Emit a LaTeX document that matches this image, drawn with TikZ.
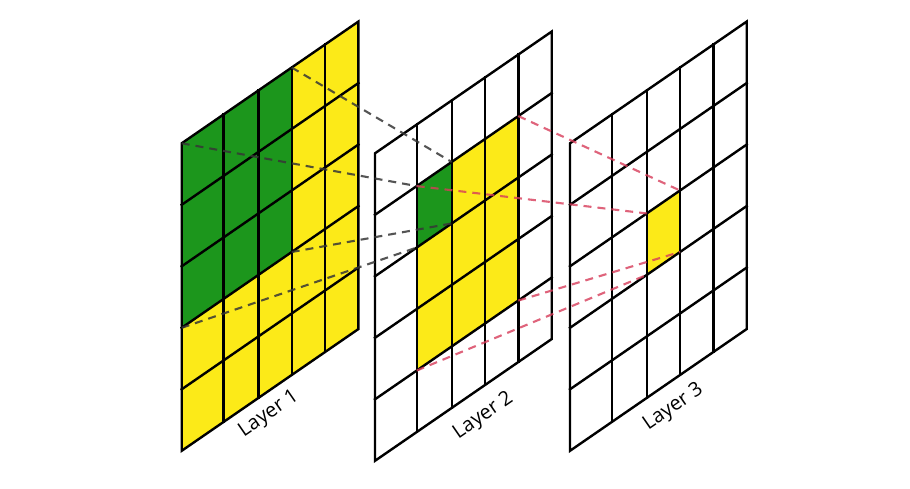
\documentclass[tikz,border=0pt]{standalone}
\usepackage{fontspec}
\setmainfont{Open Sans}
\definecolor{cgreen}{RGB}{28,150,28}
\definecolor{cyellow}{RGB}{252,234,24}
\definecolor{cgray}{RGB}{55,55,55}
\definecolor{cred}{RGB}{215,60,90}
\tikzset{
  gridline/.style={line width=2.4pt, black, line cap=rect, line join=miter},
  graydash/.style={line width=2.1pt, cgray, draw opacity=0.85, dash pattern=on 8pt off 6pt},
  reddash/.style={line width=2.1pt, cred, draw opacity=0.8, dash pattern=on 8pt off 6pt},
  layerlabel/.style={font=\fontsize{20}{22}\selectfont, rotate=34.6, inner sep=0pt}
}
\begin{document}
\begin{tikzpicture}[x=1pt,y=-1pt]
\path[use as bounding box] (0,0) rectangle (910,489);
% corner coordinates of the three grids
\foreach \l/\ox/\oy in {1/181.7/143.3, 2/375/153.3, 3/570/143.3}{
  \foreach \i/\cx in {0/0, 1/41.7, 2/76.7, 3/110, 4/143.3, 5/176.7}{
    \foreach \j in {0,...,5}{
      \coordinate (L\l-\i-\j) at ({\ox+\cx},{\oy+61.5*\j-0.689*\cx});
    }
  }
}
% fills
\fill[cyellow] (L1-0-0) -- (L1-5-0) -- (L1-5-5) -- (L1-0-5) -- cycle;
\fill[cgreen] (L1-0-0) -- (L1-3-0) -- (L1-3-3) -- (L1-0-3) -- cycle;
\fill[white] (L2-0-0) -- (L2-5-0) -- (L2-5-5) -- (L2-0-5) -- cycle;
\fill[cyellow] (L2-1-1) -- (L2-4-1) -- (L2-4-4) -- (L2-1-4) -- cycle;
\fill[cgreen] (L2-1-1) -- (L2-2-1) -- (L2-2-2) -- (L2-1-2) -- cycle;
\fill[white] (L3-0-0) -- (L3-5-0) -- (L3-5-5) -- (L3-0-5) -- cycle;
\fill[cyellow] (L3-2-2) -- (L3-3-2) -- (L3-3-3) -- (L3-2-3) -- cycle;
% grid lines
\foreach \l in {1,2,3}{
  \foreach \k in {1,...,4}{
    \draw[gridline] (L\l-\k-0) -- (L\l-\k-5);
    \draw[gridline] (L\l-0-\k) -- (L\l-5-\k);
  }
  \draw[gridline] (L\l-0-0) -- (L\l-5-0) -- (L\l-5-5) -- (L\l-0-5) -- cycle;
}
% connectors layer 1 -> layer 2
\draw[graydash] (L1-3-0) -- (L2-2-1);
\draw[graydash] (L1-0-0) -- (L2-1-1);
\draw[graydash] (L1-3-3) -- (L2-2-2);
\draw[graydash] (L1-0-3) -- (L2-1-2);
% connectors layer 2 -> layer 3
\draw[reddash] (L2-4-1) -- (L3-3-2);
\draw[reddash] (L2-1-1) -- (L3-2-2);
\draw[reddash] (L2-4-4) -- (L3-3-3);
\draw[reddash] (L2-1-4) -- (L3-2-3);
% labels
\node[layerlabel] (lab1) at (269,414) {Layer 1};
\node[layerlabel] (lab2) at (483.5,416) {Layer 2};
\node[layerlabel] (lab3) at (673.5,407.5) {Layer 3};
\end{tikzpicture}
\end{document}
